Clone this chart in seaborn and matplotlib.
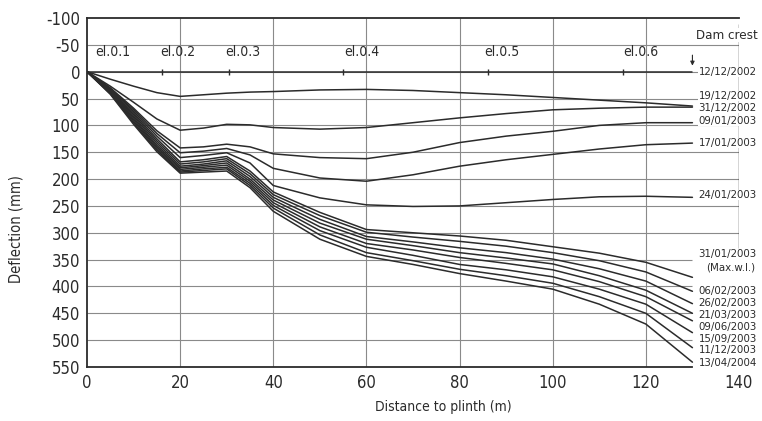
import numpy as np
import pandas as pd
import matplotlib
matplotlib.use('Agg')
import matplotlib.pyplot as plt
import seaborn as sns

# ---------------------------------------------------------------
# data (deflection in mm, + = downward)
# ---------------------------------------------------------------
dist = [0, 5, 10, 15, 20, 25, 30, 35, 40, 50, 60, 70, 80, 90, 100, 110, 120, 130]

d_1212 = [0, 0, 0, 0, 0, 0, 0, 0, 0, 0, 0, 0, 0, 0, 0, 0, 0, 0]
d_1912 = [0, 14, 27, 39, 46, 43, 40, 38, 37, 34, 33, 35, 39, 43, 48, 53, 58, 64]
d_3112 = [0, 27, 57, 88, 109, 105, 98, 99, 104, 107, 104, 95, 86, 78, 71, 68, 66, 66]
d_0901 = [0, 30, 68, 110, 142, 140, 135, 140, 153, 160, 162, 150, 132, 120, 111, 100, 95, 95]
d_1701 = [0, 32, 71, 115, 151, 148, 143, 155, 180, 198, 204, 192, 176, 164, 154, 144, 136, 133]
d_2401 = [0, 33, 74, 120, 160, 156, 151, 170, 212, 235, 248, 251, 250, 244, 238, 233, 232, 234]
d_3101 = [0, 35, 77, 125, 168, 164, 158, 185, 224, 262, 294, 300, 306, 314, 326, 338, 355, 383]
d_0602 = [0, 36, 80, 129, 172, 168, 162, 190, 229, 268, 299, 308, 316, 325, 337, 352, 373, 409]
d_2602 = [0, 37, 83, 133, 176, 172, 166, 195, 234, 275, 307, 317, 328, 337, 349, 367, 390, 432]
d_2103 = [0, 38, 86, 137, 179, 175, 170, 200, 239, 282, 312, 324, 337, 347, 358, 380, 407, 450]
d_0906 = [0, 39, 89, 140, 182, 178, 174, 204, 244, 289, 320, 332, 346, 357, 369, 391, 419, 464]
d_1509 = [0, 40, 92, 143, 185, 181, 178, 208, 249, 296, 327, 342, 359, 369, 382, 405, 433, 486]
d_1112 = [0, 41, 95, 146, 187, 184, 181, 212, 254, 304, 337, 352, 368, 380, 394, 419, 450, 514]
d_1304 = [0, 42, 98, 149, 189, 187, 185, 216, 260, 312, 344, 359, 376, 390, 405, 433, 470, 541]

dates = ['12/12/2002', '19/12/2002', '31/12/2002', '09/01/2003', '17/01/2003',
         '24/01/2003', '31/01/2003', '06/02/2003', '26/02/2003', '21/03/2003',
         '09/06/2003', '15/09/2003', '11/12/2003', '13/04/2004']
series = [d_1212, d_1912, d_3112, d_0901, d_1701, d_2401, d_3101,
          d_0602, d_2602, d_2103, d_0906, d_1509, d_1112, d_1304]

# label positions at the right end (deflection value of each label)
label_y = [0, 45, 68, 91, 132, 230, 339, 409, 431, 453, 475, 497, 519, 543]
maxwl_y = 364

# instrument (electrolevel) labels and marks on the zero line
el_names = ['el.0.1', 'el.0.2', 'el.0.3', 'el.0.4', 'el.0.5', 'el.0.6']
el_text_x = [5.5, 19.5, 33.5, 59, 89, 119]
el_mark_x = [16, 30.5, 55, 86, 115]

x_ticks = [0, 20, 40, 60, 80, 100, 120, 140]
y_ticks = [-100, -50, 0, 50, 100, 150, 200, 250, 300, 350, 400, 450, 500, 550]
grid_x = [20, 40, 60, 80, 100, 120]
grid_y_long = [-50, 0, 50, 100, 150, 200, 250, 300]
grid_y_short = [350, 400, 450, 500]
dam_crest_x = 140

rows = []
for d, vals in zip(dates, series):
    for xv, yv in zip(dist, vals):
        rows.append({'Distance': xv, 'Deflection': yv, 'Date': d})
df = pd.DataFrame(rows)

# ---------------------------------------------------------------
# figure
# ---------------------------------------------------------------
sns.set_style('white')
plt.rcParams['font.family'] = ['DejaVu Sans']
plt.rcParams['font.stretch'] = 'condensed'
plt.rcParams['axes.unicode_minus'] = False

ink = '#2b2b2b'
grid_c = '#8a8a8a'

fig = plt.figure(figsize=(7.62, 4.21), dpi=100)
ax = fig.add_axes([87 / 762, 54 / 421, 652 / 762, 349 / 421])

# grid drawn by hand so lines stop where the scan stops
ax.vlines(grid_x, -100, 550, color=grid_c, lw=0.8, zorder=1)
ax.hlines(grid_y_long, 0, 140, color=grid_c, lw=0.8, zorder=1)
ax.hlines(grid_y_short, 0, 130, color=grid_c, lw=0.8, zorder=1)

sns.lineplot(data=df, x='Distance', y='Deflection', hue='Date',
             palette=[ink] * len(dates), legend=False, sort=False,
             estimator=None, lw=1.1, ax=ax, zorder=3)

ax.set_xlim(0, 140)
ax.set_ylim(550, -100)
ax.set_xticks(x_ticks)
ax.set_yticks(y_ticks)
ax.tick_params(axis='both', labelsize=12, length=3, width=0.8,
               color=ink, labelcolor=ink, pad=2)

ax.spines['right'].set_visible(False)
for s in ['left', 'bottom', 'top']:
    ax.spines[s].set_color(ink)
    ax.spines[s].set_linewidth(1.3)
ax.spines['bottom'].set_bounds(0, 130)

# dam crest marker line
ax.vlines(dam_crest_x, -88, 328, color=ink, lw=1.0, zorder=2)
ax.text(130.8, -68, 'Dam crest', fontsize=9.5, color=ink, ha='left', va='center',
        clip_on=False, bbox=dict(facecolor='white', edgecolor='none', pad=0.5),
        zorder=4)
ax.annotate('', xy=(130, -6), xytext=(130, -36),
            arrowprops=dict(arrowstyle='-|>', lw=0.8, color=ink, mutation_scale=6))

# electrolevel labels and marks
for nm, xt in zip(el_names, el_text_x):
    ax.text(xt, -37, nm, fontsize=10, color=ink, ha='center', va='center')
ax.plot(el_mark_x, [0] * len(el_mark_x), ls='none', marker='|', ms=4,
        color=ink, mew=1.0, zorder=4)

# curve date labels
for d, yl in zip(dates, label_y):
    ax.text(131.3, yl, d, fontsize=8.2, color=ink, ha='left', va='center',
            clip_on=False, zorder=5,
            bbox=dict(facecolor='white', edgecolor='none', pad=0.0))
ax.text(133, maxwl_y, '(Max.w.l.)', fontsize=8.2, color=ink, ha='left', va='center',
        zorder=5, clip_on=False,
        bbox=dict(facecolor='white', edgecolor='none', pad=0.0))

ax.set_xlabel('Distance to plinth (m)', fontsize=10, color=ink)
ax.set_ylabel('Deflection (mm)', fontsize=10.5, color=ink)
ax.xaxis.set_label_coords((443 - 87) / 652, -0.095)
ax.yaxis.set_label_coords(-0.098, 0.395)

fig.savefig('out.png', dpi=100)
